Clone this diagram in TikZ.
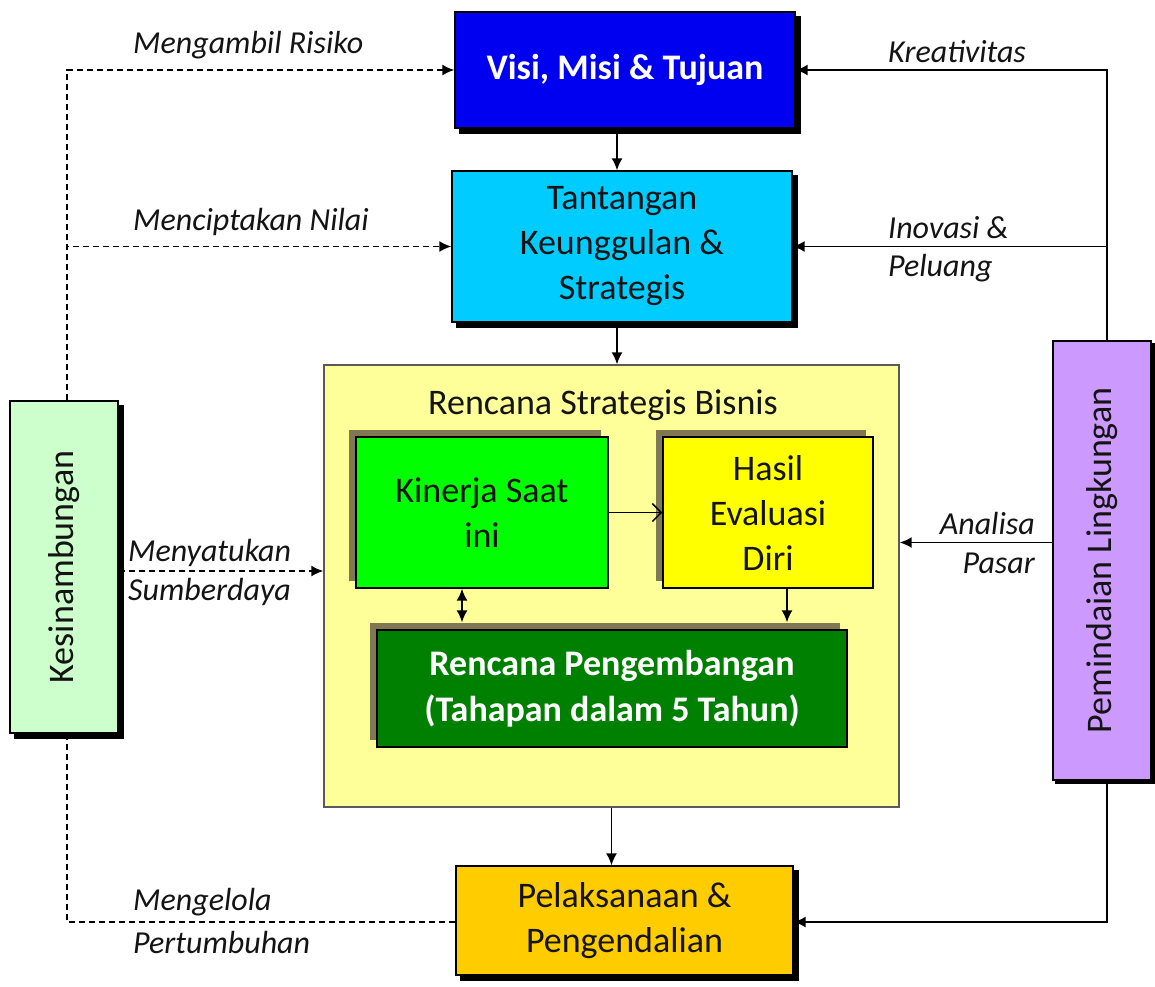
\documentclass[tikz,border=0pt]{standalone}
\usepackage{fontspec}
\usepackage{graphicx}
\setmainfont{Carlito}
\usetikzlibrary{arrows.meta,shadows}

\definecolor{visiblue}{RGB}{0,0,240}
\definecolor{tantcyan}{RGB}{0,204,255}
\definecolor{planyellow}{RGB}{255,255,153}
\definecolor{kinergreen}{RGB}{0,255,0}
\definecolor{hasilyellow}{RGB}{255,255,0}
\definecolor{rpgreen}{RGB}{0,128,0}
\definecolor{pelorange}{RGB}{255,204,0}
\definecolor{kesgreen}{RGB}{204,255,204}
\definecolor{pemviolet}{RGB}{204,153,255}
\definecolor{innershade}{RGB}{128,120,82}
\definecolor{textdark}{RGB}{20,20,20}
\definecolor{framegray}{RGB}{90,90,90}

\begin{document}
\begin{tikzpicture}[x=1pt,y=-1pt,
  boxtext/.style={font=\fontsize{36}{45}\selectfont},
  labeltext/.style={font=\fontsize{32}{40}\selectfont\itshape, text=textdark, inner sep=0pt},
  box/.style={draw=black, line width=1.3pt, inner sep=0pt, align=center, boxtext, text=textdark},
  outshadow/.style={copy shadow={shadow xshift=5pt, shadow yshift=-5pt, fill=black, draw=black}},
  thinshadow/.style={copy shadow={shadow xshift=3pt, shadow yshift=-3pt, fill=black, draw=black}},
  inshadow/.style={copy shadow={shadow xshift=-7pt, shadow yshift=7pt, fill=innershade, draw=none}},
  conn/.style={line width=1.8pt, draw=black},
  arr/.style={conn, -{Latex[length=12pt,width=11pt]}},
  darr/.style={conn, dash pattern=on 6pt off 4pt, -{Latex[length=12pt,width=11pt]}},
  dline/.style={conn, dash pattern=on 6pt off 4pt},
  openarr/.style={conn, line width=1.5pt, -{Straight Barb[length=9pt,width=18pt]}},
  biarr/.style={conn, {Latex[length=12pt,width=11pt]}-{Latex[length=12pt,width=11pt]}}
]
\useasboundingbox (0,0) rectangle (1155,986);
\fill[white] (0,0) rectangle (1155,986);

% main column
\node[box, outshadow, fill=visiblue, text=white, font=\fontsize{36}{45}\selectfont\bfseries,
      minimum width=340pt, minimum height=116pt] (visi) at (625,70) {Visi, Misi \& Tujuan};
\node[box, outshadow, fill=tantcyan, minimum width=340pt, minimum height=151pt]
      (tant) at (622,246.5) {Tantangan\\Keunggulan \&\\Strategis};

% strategic plan container with its inner boxes
\node[draw=framegray, line width=1.3pt, fill=planyellow, inner sep=0pt,
      minimum width=575pt, minimum height=442pt] (cont) at (611.5,586) {};
\node[boxtext, text=textdark, inner sep=0pt] (conttitle) at (603,405) {Rencana Strategis Bisnis};
\node[box, inshadow, fill=kinergreen, minimum width=252pt, minimum height=151pt]
      (kin) at (482,512.5) {Kinerja Saat\\ini};
\node[box, inshadow, fill=hasilyellow, minimum width=210pt, minimum height=151pt]
      (hasil) at (768,512.5) {Hasil\\Evaluasi\\Diri};
\node[box, inshadow, fill=rpgreen, text=white, font=\fontsize{36}{46}\selectfont\bfseries,
      minimum width=470pt, minimum height=117pt]
      (rp) at (612,688.5) {Rencana Pengembangan\\(Tahapan dalam 5 Tahun)};

\node[box, outshadow, fill=pelorange, minimum width=337pt, minimum height=109pt]
      (pel) at (624.5,920.5) {Pelaksanaan \&\\Pengendalian};

% side columns
\node[box, outshadow, fill=kesgreen, minimum width=108pt, minimum height=332pt]
      (kes) at (64,567) {\rotatebox{90}{Kesinambungan}};
\node[box, thinshadow, fill=pemviolet, minimum width=98pt, minimum height=439pt]
      (pem) at (1102,560.5) {\rotatebox{90}{Pemindaian Lingkungan}};

% flow down the main column
\draw[arr] ([xshift=-8pt]visi.south) -- ([xshift=-8pt]visi.south |- tant.north);
\draw[arr] ([xshift=-5pt]tant.south) -- ([xshift=-5pt]tant.south |- cont.north);
\draw[arr] (cont.south) -- (cont.south |- pel.north);

% inside the plan
\draw[openarr] (kin.east) -- (hasil.west);
\draw[biarr] ([xshift=-20pt]kin.south) -- ([xshift=-20pt,yshift=7pt]kin.south |- rp.north);
\draw[arr] ([xshift=19pt]hasil.south) -- ([xshift=19pt,yshift=7pt]hasil.south |- rp.north);

% environmental scanning feeds
\draw[arr] ([xshift=5pt]pem.north) |- (visi.east);
\draw[arr] ([xshift=5pt]pem.north) |- (tant.east);
\draw[arr] ([yshift=18pt]pem.west) -- ([yshift=18pt]pem.west -| cont.east);
\draw[arr] ([xshift=5pt]pem.south) |- ([yshift=-1.5pt]pel.east);

% continuity feeds (dashed)
\draw[darr] ([xshift=3pt]kes.north) |- (visi.west);
\draw[darr] ([xshift=3pt]kes.north) |- (tant.west);
\draw[darr] ([yshift=-4pt]kes.east) -- ([yshift=-4pt]kes.east -| cont.west);
\draw[dline] ([xshift=3pt]kes.south) |- ([yshift=-1.5pt]pel.west);

% connector labels
\node[labeltext, anchor=west] (lrisk) at (133,45) {Mengambil Risiko};
\node[labeltext, anchor=west] (lnilai) at (133,222) {Menciptakan Nilai};
\node[labeltext, anchor=west] (lsatu1) at (128,553) {Menyatukan};
\node[labeltext, anchor=west] (lsatu2) at (128,592) {Sumberdaya};
\node[labeltext, anchor=west] (lkelola1) at (133,902) {Mengelola};
\node[labeltext, anchor=west] (lkelola2) at (133,942) {Pertumbuhan};
\node[labeltext, anchor=west] (lkreatif) at (888,52) {Kreativitas};
\node[labeltext, anchor=west] (linov1) at (888,228) {Inovasi \&};
\node[labeltext, anchor=west] (linov2) at (888,268) {Peluang};
\node[labeltext, anchor=east] (lpasar1) at (1035,523) {Analisa};
\node[labeltext, anchor=east] (lpasar2) at (1035,563) {Pasar};
\end{tikzpicture}
\end{document}
